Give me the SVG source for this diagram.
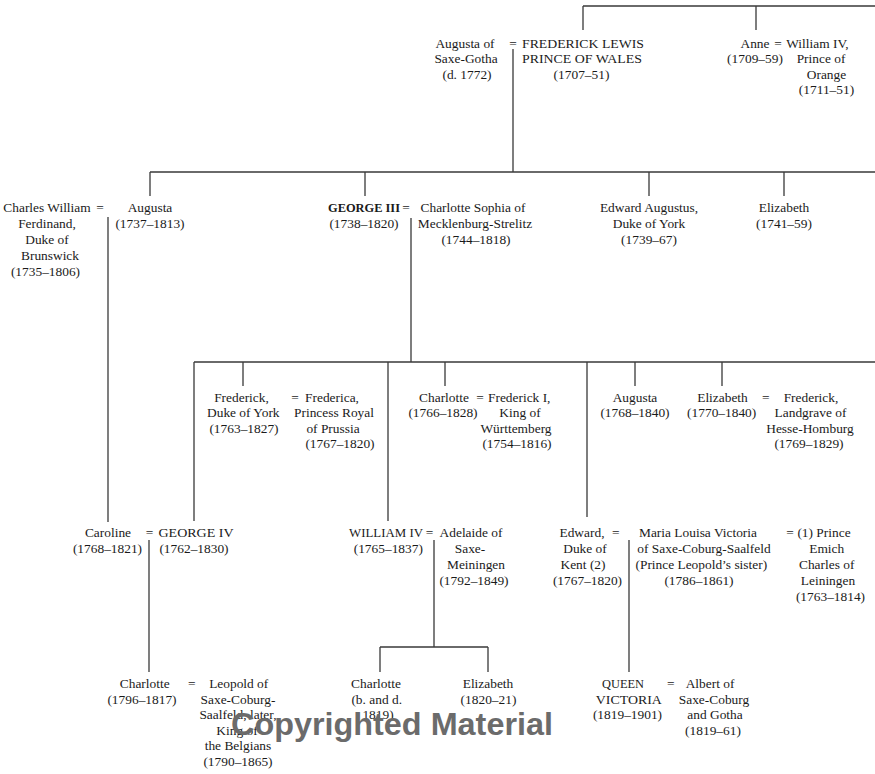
<svg xmlns="http://www.w3.org/2000/svg" width="875" height="774" viewBox="0 0 875 774">
<style>
text{font-family:"Liberation Serif","DejaVu Serif",serif;font-size:13.4px;fill:#1a1a1a;text-anchor:middle}
.b{font-weight:bold}
.s{text-anchor:start}
.l{stroke:#3a3a3a;stroke-width:1.3;fill:none}
.wm{font-family:"Liberation Sans",Arial,sans-serif;font-weight:bold;font-size:30.5px;fill:#6b6b6b;text-anchor:start}
</style>
<rect width="875" height="774" fill="#fff"/>
<g id="connectors" class="l">
<path d="M583,6H875M583,6V30M756,6V30"/>
<path d="M513,49V172M150,172H875M150,172V196M365,172V196M649,172V196M784,172V196"/>
<path d="M108,217V522"/>
<path d="M411,218V362M194,362H875M194,362V521M243,362V386M388,362V521M445,362V386M587,362V517M635,362V386M722,362V386"/>
<path d="M149,540V672"/>
<path d="M434,540V647M380,647H488M380,647V672M488,647V672"/>
<path d="M629,540V672"/>
</g>
<g id="augusta-saxe-gotha"><text x="465" y="47.5">Augusta of</text><text x="466" y="63">Saxe-Gotha</text><text x="467" y="78.5">(d. 1772)</text></g>
<g id="eq1"><text x="513" y="47.5">=</text></g>
<g id="frederick-lewis"><text x="583" y="47.5" textLength="122" lengthAdjust="spacingAndGlyphs">FREDERICK LEWIS</text><text x="582" y="63" textLength="120" lengthAdjust="spacingAndGlyphs">PRINCE OF WALES</text><text x="581.5" y="78.5">(1707–51)</text></g>
<g id="anne"><text x="755" y="47.5">Anne</text><text x="755" y="63">(1709–59)</text></g>
<g id="eq2"><text x="778" y="47.5">=</text></g>
<g id="william-iv-orange"><text x="817.5" y="47.5">William IV,</text><text x="821" y="63">Prince of</text><text x="826.5" y="78.5">Orange</text><text x="826.5" y="94">(1711–51)</text></g>

<g id="charles-william"><text x="47" y="211.5">Charles William</text><text x="47" y="227.5">Ferdinand,</text><text x="47" y="244">Duke of</text><text x="50" y="260">Brunswick</text><text x="45.5" y="276">(1735–1806)</text></g>
<g id="eq3"><text x="100" y="211.5">=</text></g>
<g id="augusta-1737"><text x="150" y="211.5">Augusta</text><text x="150" y="227.5">(1737–1813)</text></g>
<g id="george-iii"><text class="b" x="364" y="211.5" textLength="72" lengthAdjust="spacingAndGlyphs">GEORGE III</text><text x="364" y="227.5">(1738–1820)</text></g>
<g id="eq4"><text x="406" y="211.5">=</text></g>
<g id="charlotte-sophia"><text x="473" y="211.5">Charlotte Sophia of</text><text x="475" y="227.5">Mecklenburg-Strelitz</text><text x="476" y="244">(1744–1818)</text></g>
<g id="edward-augustus"><text x="649" y="211.5">Edward Augustus,</text><text x="649" y="227.5">Duke of York</text><text x="649" y="244">(1739–67)</text></g>
<g id="elizabeth-1741"><text x="784" y="211.5">Elizabeth</text><text x="784" y="227.5">(1741–59)</text></g>

<g id="frederick-york"><text x="241.5" y="401.5">Frederick,</text><text x="243.3" y="417">Duke of York</text><text x="244" y="432.5">(1763–1827)</text></g>
<g id="eq5"><text x="295" y="401.5">=</text></g>
<g id="frederica"><text x="332" y="401.5">Frederica,</text><text x="334" y="417">Princess Royal</text><text x="333" y="432.5">of Prussia</text><text x="340" y="448">(1767–1820)</text></g>
<g id="charlotte-1766"><text x="444" y="401.5">Charlotte</text><text x="443" y="417">(1766–1828)</text></g>
<g id="eq6"><text x="480" y="401.5">=</text></g>
<g id="frederick-i"><text class="s" x="488" y="401.5">Frederick I,</text><text x="520" y="417">King of</text><text x="516" y="432.5">Württemberg</text><text x="517" y="448">(1754–1816)</text></g>
<g id="augusta-1768"><text x="635" y="401.5">Augusta</text><text x="635" y="417">(1768–1840)</text></g>
<g id="elizabeth-1770"><text x="722.5" y="401.5">Elizabeth</text><text x="721.7" y="417">(1770–1840)</text></g>
<g id="eq7"><text x="765.7" y="401.5">=</text></g>
<g id="frederick-hesse"><text x="811" y="401.5">Frederick,</text><text x="810.5" y="417">Landgrave of</text><text x="810" y="432.5">Hesse-Homburg</text><text x="809" y="448">(1769–1829)</text></g>

<g id="caroline"><text x="108" y="536.5">Caroline</text><text x="107.5" y="552.5">(1768–1821)</text></g>
<g id="eq8"><text x="149.5" y="536.5">=</text></g>
<g id="george-iv"><text x="196" y="536.5" textLength="75" lengthAdjust="spacingAndGlyphs">GEORGE IV</text><text x="194" y="552.5">(1762–1830)</text></g>
<g id="william-iv"><text x="386" y="536.5" textLength="74" lengthAdjust="spacingAndGlyphs">WILLIAM IV</text><text x="388.3" y="552.5">(1765–1837)</text></g>
<g id="eq9"><text x="429.5" y="536.5">=</text></g>
<g id="adelaide"><text x="471" y="536.5">Adelaide of</text><text x="470" y="552.5">Saxe-</text><text x="476" y="569">Meiningen</text><text x="474" y="585">(1792–1849)</text></g>
<g id="edward-kent"><text x="582" y="536.5">Edward,</text><text x="585" y="552.5">Duke of</text><text x="583" y="569">Kent (2)</text><text x="587.5" y="585">(1767–1820)</text></g>
<g id="eq10"><text x="615.7" y="536.5">=</text></g>
<g id="maria-louisa"><text x="698" y="536.5">Maria Louisa Victoria</text><text x="704" y="552.5">of Saxe-Coburg-Saalfeld</text><text x="701.3" y="569">(Prince Leopold’s sister)</text><text x="699" y="585">(1786–1861)</text></g>
<g id="eq11"><text x="790" y="536.5">=</text></g>
<g id="emich-charles"><text x="824" y="536.5">(1) Prince</text><text x="826.7" y="552.5">Emich</text><text x="826.7" y="569">Charles of</text><text x="828" y="585">Leiningen</text><text x="830.5" y="601">(1763–1814)</text></g>

<g id="charlotte-1796"><text x="144.7" y="687.5">Charlotte</text><text x="142" y="703.5">(1796–1817)</text></g>
<g id="eq12"><text x="191.7" y="687.5">=</text></g>
<g id="leopold"><text x="238.7" y="687.5">Leopold of</text><text x="238" y="703.5">Saxe-Coburg-</text><text x="238" y="719">Saalfeld, later,</text><text x="237" y="734.5">King of</text><text x="238" y="750">the Belgians</text><text x="238" y="766">(1790–1865)</text></g>
<g id="charlotte-1819"><text x="376" y="687.5">Charlotte</text><text x="376.7" y="703.5">(b. and d.</text><text x="378" y="719">1819)</text></g>
<g id="elizabeth-1820"><text x="488" y="687.5">Elizabeth</text><text x="488.5" y="703.5">(1820–21)</text></g>
<g id="queen-victoria"><text x="623" y="687.5" textLength="42" lengthAdjust="spacingAndGlyphs">QUEEN</text><text x="628.8" y="703.5" textLength="66" lengthAdjust="spacingAndGlyphs">VICTORIA</text><text x="627.5" y="719">(1819–1901)</text></g>
<g id="eq13"><text x="670.7" y="687.5">=</text></g>
<g id="albert"><text x="710" y="687.5">Albert of</text><text x="714" y="703.5">Saxe-Coburg</text><text x="715" y="719">and Gotha</text><text x="713" y="734.5">(1819–61)</text></g>
<g id="watermark"><text class="wm" x="231" y="735" textLength="322" lengthAdjust="spacingAndGlyphs">Copyrighted Material</text></g>
</svg>
